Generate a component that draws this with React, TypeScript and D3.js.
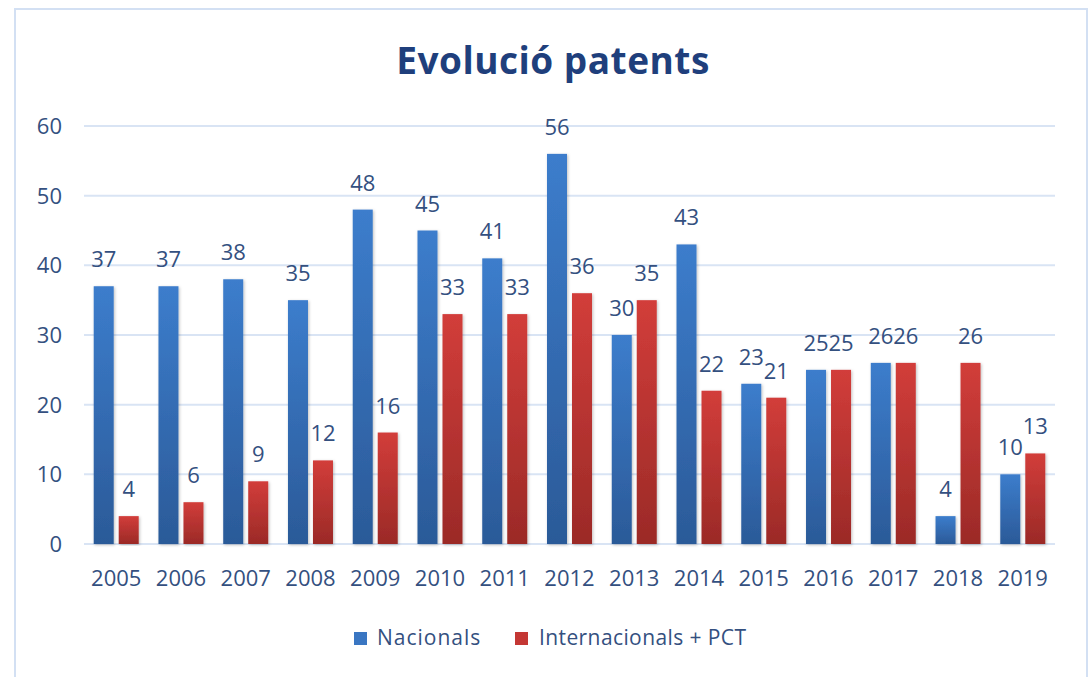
import React from "react";
import * as d3 from "d3";

const years = ["2005","2006","2007","2008","2009","2010","2011","2012","2013","2014","2015","2016","2017","2018","2019"];
const nacionals = [37,37,38,35,48,45,41,56,30,43,23,25,26,4,10];
const internacionals = [4,6,9,12,16,33,33,36,35,22,21,25,26,26,13];
const seriesNames = ["Nacionals", "Internacionals + PCT"];
const yTicks = [0,10,20,30,40,50,60];

const W = 1090, H = 677;
const plotLeft = 84, plotRight = 1055, plotTop = 126, plotBottom = 544;
const textColor = "#34507f";
const font = "'Open Sans', sans-serif";

export default function App() {
  const x = d3.scaleBand<string>().domain(years).range([plotLeft, plotRight]).paddingInner(0.305).paddingOuter(0.15);
  const sub = d3.scaleBand<string>().domain(["n", "i"]).range([0, x.bandwidth()]).paddingInner(0.2);
  const y = d3.scaleLinear().domain([0, 60]).range([plotBottom, plotTop]);
  const series = [
    { key: "n", values: nacionals, fill: "url(#gBlue)" },
    { key: "i", values: internacionals, fill: "url(#gRed)" },
  ];
  return (
    <svg width={W} height={H} style={{ position: "absolute", left: 0, top: 0, background: "#fff" }}>
      <defs>
        <linearGradient id="gBlue" x1="0" y1="0" x2="0" y2="1">
          <stop offset="0" stopColor="#3c7dcc" />
          <stop offset="1" stopColor="#2b5a98" />
        </linearGradient>
        <linearGradient id="gRed" x1="0" y1="0" x2="0" y2="1">
          <stop offset="0" stopColor="#d23d3a" />
          <stop offset="1" stopColor="#9b2a27" />
        </linearGradient>
        <filter id="shadow" x="-20%" y="-5%" width="140%" height="110%">
          <feDropShadow dx="1" dy="1" stdDeviation="1.5" floodColor="#000" floodOpacity="0.25" />
        </filter>
      </defs>
      <rect x={15} y={9} width={1072} height={720} fill="#fff" stroke="#d3e0f3" strokeWidth={2} />
      <text x={553} y={74} textAnchor="middle" fontFamily={font} fontWeight={700} fontSize={37} letterSpacing={0.5} fill="#1f3f7c">Evolució patents</text>
      {yTicks.map(t => (
        <g key={t}>
          <line x1={plotLeft} x2={plotRight} y1={y(t)} y2={y(t)} stroke="#d9e4f4" strokeWidth={2} />
          <text x={62} y={y(t) + 8} textAnchor="end" fontFamily={font} fontSize={22} fill={textColor}>{t}</text>
        </g>
      ))}
      {series.map(s => (
        <g key={s.key}>
          {years.map((yr, i) => {
            const bx = (x(yr) as number) + (sub(s.key) as number);
            const v = s.values[i];
            return (
              <g key={yr}>
                <rect x={bx} y={y(v)} width={sub.bandwidth()} height={plotBottom - y(v)} fill={s.fill} filter="url(#shadow)" />
                <text x={bx + sub.bandwidth() / 2} y={y(v) - 19} textAnchor="middle" fontFamily={font} fontSize={22} fill={textColor}>{v}</text>
              </g>
            );
          })}
        </g>
      ))}
      {years.map(yr => (
        <text key={yr} x={(x(yr) as number) + x.bandwidth() / 2} y={586} textAnchor="middle" fontFamily={font} fontSize={22} fill={textColor}>{yr}</text>
      ))}
      <rect x={354} y={632} width={13} height={13} fill="#3a76c2" />
      <text x={377} y={645} fontFamily={font} fontSize={21} letterSpacing={1} fill={textColor}>{seriesNames[0]}</text>
      <rect x={515} y={632} width={13} height={13} fill="#c43734" />
      <text x={539} y={645} fontFamily={font} fontSize={21} letterSpacing={0.4} fill={textColor}>{seriesNames[1]}</text>
    </svg>
  );
}
